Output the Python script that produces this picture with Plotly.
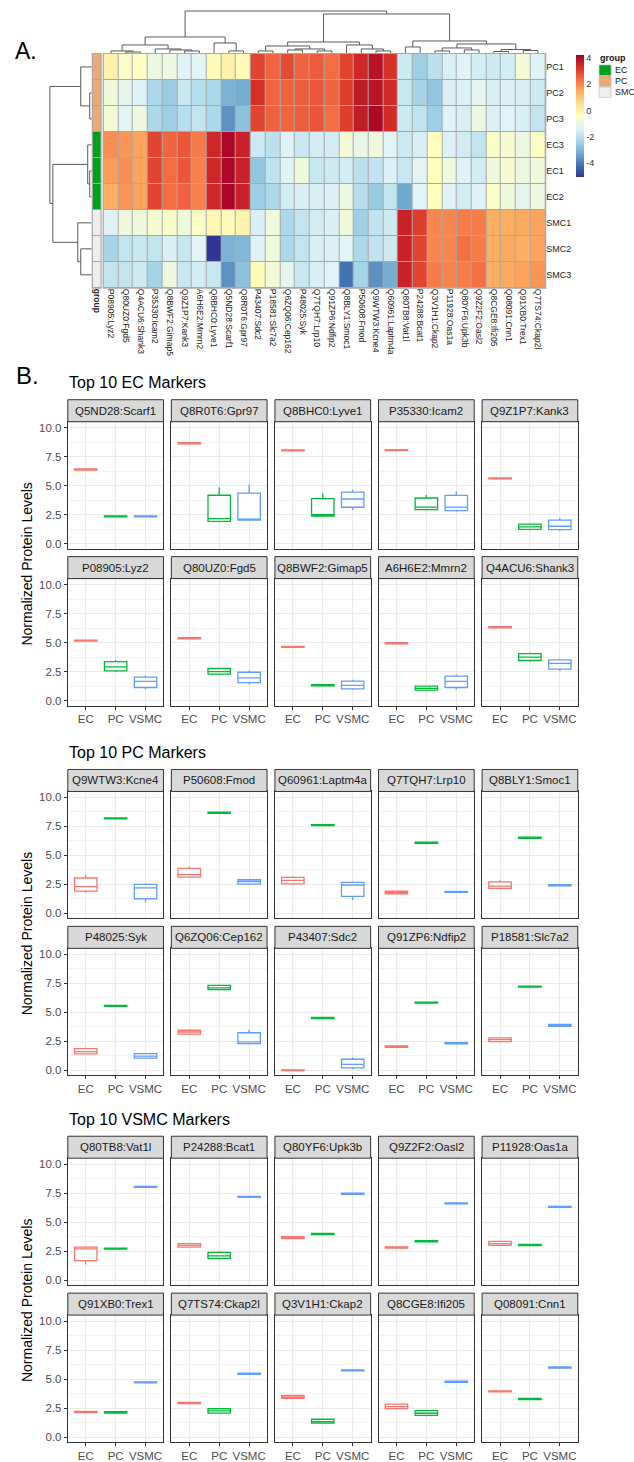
import plotly.graph_objects as go

W, H = 634, 1462
FONT = "Liberation Sans, Arial, Helvetica, sans-serif"


def fx(p):
    return p / W


def fy(p):
    return 1 - p / H


# ---------------- Heatmap data (panel A) ----------------
hm_cols = ["P08905:Lyz2", "Q80UZ0:Fgd5", "Q4ACU6:Shank3", "P35330:Icam2", "Q8BWF2:Gimap5",
           "Q9Z1P7:Kank3", "A6H6E2:Mmrn2", "Q8BHC0:Lyve1", "Q5ND28:Scarf1", "Q8R0T6:Gpr97",
           "P43407:Sdc2", "P18581:Slc7a2", "Q6ZQ06:Cep162", "P48025:Syk", "Q7TQH7:Lrp10",
           "Q91ZP6:Ndfip2", "Q8BLY1:Smoc1", "P50608:Fmod", "Q9WTW3:Kcne4", "Q60961:Laptm4a",
           "Q80TB8:Vat1l", "P24288:Bcat1", "Q3V1H1:Ckap2", "P11928:Oas1a", "Q80YF6:Upk3b",
           "Q9Z2F2:Oasl2", "Q8CGE8:Ifi205", "Q08091:Cnn1", "Q91XB0:Trex1", "Q7TS74:Ckap2l"]
hm_rows = ["PC1", "PC2", "PC3", "EC3", "EC1", "EC2", "SMC1", "SMC2", "SMC3"]
hm_groups = ["PC", "PC", "PC", "EC", "EC", "EC", "SMC", "SMC", "SMC"]

val_PC1 = [0.0, -0.6, -0.5, -1.0, -1.0, -1.4, -1.3, -0.3, 0.0, -0.3,
           3.0, 2.5, 2.9, 2.5, 2.65, 2.4, 3.0, 3.5, 3.9, 3.3,
           -1.7, -2.5, -2.0, -1.5, -1.35, -1.6, -1.7, -1.6, -0.8, -1.4]
val_PC2 = [-0.9, -1.2, -1.4, -2.3, -2.6, -1.8, -2.1, -2.3, -3.1, -3.2,
           3.3, 2.5, 2.55, 2.6, 2.7, 2.5, 3.1, 3.75, 3.85, 3.45,
           -1.8, -2.4, -2.7, -1.5, -1.45, -1.25, -1.5, -1.45, -1.5, -1.7]
val_PC3 = [-0.8, -1.3, -1.0, -2.3, -2.5, -2.1, -1.9, -2.3, -3.7, -2.8,
           3.0, 2.55, 2.5, 2.6, 2.75, 2.4, 3.1, 3.7, 4.1, 3.4,
           -1.7, -1.95, -2.5, -1.35, -1.5, -1.0, -1.45, -1.35, -1.5, -1.9]
val_EC3 = [1.9, 1.8, 1.6, 3.0, 2.5, 2.7, 2.2, 3.5, 4.1, 3.6,
           -1.7, -2.0, -1.4, -1.8, -1.6, -1.6, -0.8, -1.1, -0.95, -1.3,
           -1.7, -1.5, -0.4, -1.45, -1.6, -1.9, -0.55, -0.7, -1.0, -0.55]
val_EC1 = [1.7, 1.9, 1.6, 3.0, 2.4, 2.7, 2.1, 3.5, 4.1, 3.6,
           -2.7, -1.95, -1.35, -0.9, -1.8, -1.7, -1.6, -2.0, -1.9, -1.45,
           -1.8, -1.3, -0.4, -0.9, -1.4, -1.6, -0.9, -0.7, -1.0, -0.9]
val_EC2 = [1.4, 1.8, 1.6, 3.0, 2.4, 2.55, 2.1, 3.5, 4.15, 3.6,
           -2.55, -2.3, -1.6, -1.5, -1.5, -1.45, -1.0, -2.1, -2.6, -1.9,
           -3.3, -1.35, -0.4, -1.4, -1.6, -1.4, -0.55, -0.9, -1.2, -1.0]
val_SMC1 = [-1.4, -0.9, -0.9, -0.7, -0.55, -0.9, -0.55, -0.2, -0.3, -0.1,
            -1.5, -0.9, -2.3, -1.9, -1.6, -1.5, -0.9, -2.5, -1.9, -1.7,
            3.6, 3.1, 2.0, 2.0, 2.15, 2.15, 1.45, 1.45, 1.5, 1.6]
val_SMC2 = [-2.4, -1.9, -1.8, -1.9, -1.5, -1.8, -1.3, -5.1, -3.1, -3.0,
            -1.4, -0.9, -2.3, -1.9, -1.5, -1.45, -1.3, -2.3, -1.9, -1.7,
            3.6, 3.0, 2.0, 2.0, 2.35, 2.15, 1.45, 1.5, 1.4, 1.6]
val_SMC3 = [-1.9, -1.9, -1.7, -2.4, -1.0, -1.8, -1.6, -1.8, -3.7, -2.8,
            -0.3, -0.8, -1.2, -1.8, -1.5, -1.35, -4.2, -2.4, -3.7, -3.2,
            3.6, 3.0, 2.15, 2.05, 2.15, 2.35, 1.45, 1.5, 1.6, 1.8]
hm_values = [val_PC1, val_PC2, val_PC3, val_EC3, val_EC1, val_EC2, val_SMC1, val_SMC2, val_SMC3]

hm_zmin, hm_zmax = -5.1, 4.25
cbar_ticks = [-4, -2, 0, 2, 4]
rdylbu = ["#313695", "#4575B4", "#74ADD1", "#ABD9E9", "#E0F3F8", "#FFFFBF",
          "#FEE090", "#FDAE61", "#F46D43", "#D73027", "#A50026"]
group_names = ["EC", "PC", "SMC"]
group_fill = ["#00A21A", "#EBAA73", "#EEEEEE"]

# dendrograms: (left, right, merge height); ints are leaf indices
col_tree = (
    (((0, (1, 2, 1.0), 2.0), (3, (4, (5, 6, 2.0), 3.0), 4.0), 8.0),
     (7, (8, 9, 2.0), 10.0), 16.0),
    ((((10, 11, 2.0), ((12, 13, 3.0), (14, 15, 2.0), 4.0), 7.0),
      (16, (17, (18, 19, 2.0), 4.0), 8.0), 11.0),
     ((20, 21, 6.0),
      (((22, 23, 2.0), (24, 25, 3.0), 5.0), ((26, 27, 1.5), (28, 29, 2.5), 3.5), 9.0), 12.0),
     39.0),
    42.0)
row_tree = ((0, (1, 2, 2.0), 11.0), ((3, (4, 5, 2.0), 4.0), (6, (7, 8, 11.0), 14.0), 39.0), 42.0)

# ---------------- Box plot data (panel B) ----------------
cell_types = ["EC", "PC", "VSMC"]
type_colors = ["#F8766D", "#00BA38", "#619CFF"]

ec_genes = ["Q5ND28:Scarf1", "Q8R0T6:Gpr97", "Q8BHC0:Lyve1", "P35330:Icam2", "Q9Z1P7:Kank3",
            "P08905:Lyz2", "Q80UZ0:Fgd5", "Q8BWF2:Gimap5", "A6H6E2:Mmrn2", "Q4ACU6:Shank3"]
ec_EC = [[6.33, 6.40, 6.46], [8.60, 8.66, 8.72], [7.98, 8.04, 8.10], [8.01, 8.07, 8.13], [5.57, 5.63, 5.69],
         [5.11, 5.17, 5.23], [5.31, 5.37, 5.43], [4.57, 4.63, 4.69], [4.88, 4.94, 5.00], [6.26, 6.32, 6.38]]
ec_PC = [[2.29, 2.35, 2.41], [1.85, 2.15, 4.85], [2.35, 2.49, 4.35], [2.85, 3.15, 4.20], [1.15, 1.45, 1.75],
         [2.45, 2.90, 3.50], [2.20, 2.50, 2.85], [1.26, 1.32, 1.38], [0.85, 1.05, 1.30], [3.35, 3.75, 4.15]]
ec_VSMC = [[2.29, 2.35, 2.40], [2.00, 2.10, 5.10], [2.90, 3.85, 4.65], [2.75, 3.15, 4.50], [1.10, 1.50, 2.20],
           [0.95, 1.65, 2.15], [1.40, 1.95, 2.60], [0.90, 1.30, 1.80], [0.95, 1.65, 2.25], [2.55, 3.20, 3.60]]

pc_genes = ["Q9WTW3:Kcne4", "P50608:Fmod", "Q60961:Laptm4a", "Q7TQH7:Lrp10", "Q8BLY1:Smoc1",
            "P48025:Syk", "Q6ZQ06:Cep162", "P43407:Sdc2", "Q91ZP6:Ndfip2", "P18581:Slc7a2"]
pc_EC = [[1.80, 2.30, 3.30], [3.05, 3.35, 4.05], [2.45, 2.85, 3.20], [1.65, 1.80, 1.95], [2.10, 2.35, 2.85],
         [1.35, 1.60, 1.95], [3.05, 3.30, 3.50], [-0.05, 0.00, 0.05], [1.97, 2.04, 2.11], [2.40, 2.65, 2.85]]
pc_PC = [[8.13, 8.19, 8.25], [8.62, 8.68, 8.74], [7.55, 7.61, 7.67], [6.03, 6.09, 6.15], [6.46, 6.52, 6.58],
         [5.49, 5.55, 5.61], [6.90, 7.10, 7.40], [4.45, 4.51, 4.57], [5.77, 5.83, 5.89], [7.16, 7.22, 7.28]]
pc_VSMC = [[0.95, 2.20, 2.60], [2.45, 2.75, 2.95], [1.15, 2.45, 2.75], [1.79, 1.86, 1.92], [2.36, 2.43, 2.50],
           [1.00, 1.22, 1.50], [2.25, 2.45, 3.50], [0.10, 0.50, 1.10], [2.26, 2.33, 2.40], [3.76, 3.87, 3.98]]

vsmc_genes = ["Q80TB8:Vat1l", "P24288:Bcat1", "Q80YF6:Upk3b", "Q9Z2F2:Oasl2", "P11928:Oas1a",
              "Q91XB0:Trex1", "Q7TS74:Ckap2l", "Q3V1H1:Ckap2", "Q8CGE8:Ifi205", "Q08091:Cnn1"]
vsmc_EC = [[1.35, 2.70, 2.90], [2.80, 3.00, 3.20], [3.55, 3.65, 3.78], [2.75, 2.82, 2.88], [2.95, 3.15, 3.40],
           [2.10, 2.16, 2.22], [2.86, 2.93, 3.00], [3.30, 3.45, 3.65], [2.40, 2.62, 2.90], [3.88, 3.94, 4.00]]
vsmc_PC = [[2.65, 2.72, 2.78], [1.80, 2.10, 2.50], [3.90, 3.97, 4.05], [3.28, 3.35, 3.42], [2.96, 3.03, 3.10],
           [2.05, 2.12, 2.20], [2.00, 2.25, 2.50], [1.15, 1.33, 1.60], [1.80, 2.05, 2.35], [3.22, 3.28, 3.34]]
vsmc_VSMC = [[7.99, 8.05, 8.11], [7.12, 7.18, 7.24], [7.39, 7.45, 7.51], [6.56, 6.62, 6.68], [6.26, 6.32, 6.38],
             [4.65, 4.71, 4.77], [5.40, 5.46, 5.52], [5.69, 5.75, 5.81], [4.71, 4.77, 4.83], [5.94, 6.00, 6.06]]

sections = [
    ("Top 10 EC Markers", ec_genes, [ec_EC, ec_PC, ec_VSMC]),
    ("Top 10 PC Markers", pc_genes, [pc_EC, pc_PC, pc_VSMC]),
    ("Top 10 VSMC Markers", vsmc_genes, [vsmc_EC, vsmc_PC, vsmc_VSMC]),
]
y_ticks = [0, 2.5, 5, 7.5, 10]
y_ticktext = ["0.0", "2.5", "5.0", "7.5", "10.0"]
y_minor = [1.25, 3.75, 6.25, 8.75]

# ---------------- Layout geometry (pixels) ----------------
HM_L, HM_R, HM_T, HM_B = 103, 546, 54, 288
ANN_L, ANN_R = 92, 100
PANEL_L, PANEL_W, PANEL_STEP = 67, 96, 103.9
PANEL_H, STRIP_H = 127, 22
panel_tops = [[422, 579], [792, 949], [1159, 1316]]
title_y = [383, 753, 1120]
ytitle_y = [564, 934, 1301]

fig = go.Figure()
layout = dict(
    width=W, height=H, margin=dict(l=0, r=0, t=0, b=0),
    paper_bgcolor="white", plot_bgcolor="white", showlegend=False,
    hovermode=False, font=dict(family=FONT, color="#1A1A1A"),
)
shapes = []
annotations = []

# heatmap
cs = [[i / (len(rdylbu) - 1), c] for i, c in enumerate(rdylbu)]
fig.add_trace(go.Heatmap(
    z=hm_values, x=list(range(len(hm_cols))), y=list(range(len(hm_rows))),
    colorscale=cs, zmin=hm_zmin, zmax=hm_zmax, xgap=1, ygap=1,
    xaxis="x", yaxis="y",
    colorbar=dict(x=fx(577), xanchor="left", y=fy(55), yanchor="top",
                  len=122, lenmode="pixels", thickness=8, thicknessmode="pixels",
                  outlinewidth=0, ticks="", tickvals=cbar_ticks,
                  ticktext=[str(t) for t in cbar_ticks], xpad=0, ypad=0,
                  tickfont=dict(size=9, color="#333333", family=FONT)),
))
layout["xaxis"] = dict(domain=[fx(HM_L), fx(HM_R)], range=[-0.5, len(hm_cols) - 0.5],
                       tickvals=list(range(len(hm_cols))), ticktext=hm_cols, tickangle=90,
                       ticks="", showgrid=False, zeroline=False, showline=False, anchor="y",
                       tickfont=dict(size=8.5, color="#222222", family=FONT))
layout["yaxis"] = dict(domain=[fy(HM_B), fy(HM_T)], range=[len(hm_rows) - 0.5, -0.5],
                       tickvals=list(range(len(hm_rows))), ticktext=hm_rows, side="right",
                       ticks="", showgrid=False, zeroline=False, showline=False, anchor="x",
                       tickfont=dict(size=9, color="#222222", family=FONT))
shapes.append(dict(type="rect", xref="paper", yref="paper", layer="below",
                   x0=fx(HM_L - 1), x1=fx(HM_R + 1), y0=fy(HM_B + 1), y1=fy(HM_T - 1),
                   fillcolor="#A8A8A8", line=dict(width=0)))

# annotation column
codes = [[group_names.index(g)] for g in hm_groups]
fig.add_trace(go.Heatmap(
    z=codes, x=[0], y=list(range(len(hm_rows))),
    colorscale=[[0, group_fill[0]], [0.5, group_fill[1]], [1, group_fill[2]]],
    zmin=0, zmax=2, showscale=False, ygap=1, xaxis="x2", yaxis="y2"))
layout["xaxis2"] = dict(domain=[fx(ANN_L), fx(ANN_R)], range=[-0.5, 0.5], tickvals=[0],
                        ticktext=["<b>group</b>"], tickangle=90, ticks="", showgrid=False,
                        zeroline=False, anchor="y2",
                        tickfont=dict(size=8.5, color="#222222", family=FONT))
layout["yaxis2"] = dict(domain=[fy(HM_B), fy(HM_T)], range=[len(hm_rows) - 0.5, -0.5],
                        showticklabels=False, ticks="", showgrid=False, zeroline=False, anchor="x2")
shapes.append(dict(type="rect", xref="paper", yref="paper", layer="below",
                   x0=fx(ANN_L - 1), x1=fx(ANN_R + 1), y0=fy(HM_B + 1), y1=fy(HM_T - 1),
                   fillcolor="#A8A8A8", line=dict(width=0)))


def dendro(node, xs, ys, horizontal):
    if isinstance(node, int):
        return float(node), 0.0
    l, r, h = node
    cl, hl = dendro(l, xs, ys, horizontal)
    cr, hr = dendro(r, xs, ys, horizontal)
    pos = [cl, cl, cr, cr, None]
    hts = [hl, h, h, hr, None]
    if horizontal:
        xs += pos
        ys += hts
    else:
        xs += hts
        ys += pos
    return (cl + cr) / 2, h


cx, cy = [], []
dendro(col_tree, cx, cy, True)
fig.add_trace(go.Scatter(x=cx, y=cy, mode="lines", line=dict(color="#5A5A5A", width=1),
                         xaxis="x3", yaxis="y3"))
layout["xaxis3"] = dict(domain=[fx(HM_L), fx(HM_R)], range=[-0.5, len(hm_cols) - 0.5],
                        visible=False, anchor="y3")
layout["yaxis3"] = dict(domain=[fy(53), fy(10)], range=[0, 43], visible=False, anchor="x3")

rx, ry = [], []
dendro(row_tree, rx, ry, False)
fig.add_trace(go.Scatter(x=rx, y=ry, mode="lines", line=dict(color="#5A5A5A", width=1),
                         xaxis="x4", yaxis="y4"))
layout["xaxis4"] = dict(domain=[fx(48), fx(91)], range=[43, 0], visible=False, anchor="y4")
layout["yaxis4"] = dict(domain=[fy(HM_B), fy(HM_T)], range=[len(hm_rows) - 0.5, -0.5],
                        visible=False, anchor="x4")

# group legend
annotations.append(dict(text="<b>group</b>", x=fx(599), y=fy(58), xref="paper", yref="paper",
                        xanchor="left", yanchor="middle", showarrow=False,
                        font=dict(size=9, color="#111111", family=FONT)))
for i, (g, c) in enumerate(zip(group_names, group_fill)):
    top = 65 + i * 11
    shapes.append(dict(type="rect", xref="paper", yref="paper", x0=fx(600), x1=fx(612),
                       y0=fy(top + 10.5), y1=fy(top), fillcolor=c, line=dict(color="#BBBBBB", width=0.6)))
    annotations.append(dict(text=g, x=fx(614), y=fy(top + 5.5), xref="paper", yref="paper",
                            xanchor="left", yanchor="middle", showarrow=False,
                            font=dict(size=9, color="#222222", family=FONT)))

annotations.append(dict(text="A.", x=fx(12), y=fy(51), xref="paper", yref="paper",
                        xanchor="left", yanchor="middle", showarrow=False,
                        font=dict(size=23, color="black", family=FONT)))
annotations.append(dict(text="B.", x=fx(13), y=fy(376), xref="paper", yref="paper",
                        xanchor="left", yanchor="middle", showarrow=False,
                        font=dict(size=24, color="black", family=FONT)))

# box panels
ax_n = 5
for s, (title, genes, series) in enumerate(sections):
    annotations.append(dict(text=title, x=fx(PANEL_L - 1), y=fy(title_y[s]), xref="paper", yref="paper",
                            xanchor="left", yanchor="middle", showarrow=False,
                            font=dict(size=16, color="black", family=FONT)))
    annotations.append(dict(text="Normalized Protein Levels", x=fx(26), y=fy(ytitle_y[s]),
                            xref="paper", yref="paper", textangle=-90, xanchor="center",
                            yanchor="middle", showarrow=False,
                            font=dict(size=14, color="black", family=FONT)))
    for gi, gene in enumerate(genes):
        r, c = divmod(gi, 5)
        left = PANEL_L + c * PANEL_STEP
        top = panel_tops[s][r]
        xa, ya = f"x{ax_n}", f"y{ax_n}"
        for k, ct in enumerate(cell_types):
            vals = series[k][gi]
            fig.add_trace(go.Box(
                y=vals, x=[ct] * len(vals), xaxis=xa, yaxis=ya,
                boxpoints=False, whiskerwidth=0, width=0.75, quartilemethod="linear",
                fillcolor="white", line=dict(color=type_colors[k], width=1.3),
                marker=dict(color=type_colors[k])))
        layout[f"xaxis{ax_n}"] = dict(
            domain=[fx(left), fx(left + PANEL_W)], type="category",
            categoryorder="array", categoryarray=cell_types, range=[-0.6, 2.6],
            showgrid=True, gridcolor="#EBEBEB", gridwidth=1.2, zeroline=False,
            showline=True, linecolor="#333333", linewidth=1, mirror=True,
            ticks="outside" if r == 1 else "", ticklen=3, tickcolor="#333333",
            showticklabels=(r == 1), anchor=f"y{ax_n}",
            tickfont=dict(size=11.5, color="#4D4D4D", family=FONT))
        layout[f"yaxis{ax_n}"] = dict(
            domain=[fy(top + PANEL_H), fy(top)], range=[-0.431, 10.517],
            tickvals=y_ticks, ticktext=y_ticktext, showticklabels=(c == 0),
            ticks="outside" if c == 0 else "", ticklen=3, tickcolor="#333333",
            showgrid=True, gridcolor="#EBEBEB", gridwidth=1.2, zeroline=False,
            minor=dict(tickvals=y_minor, showgrid=True, gridcolor="#F4F4F4", gridwidth=0.7, ticks=""),
            showline=True, linecolor="#333333", linewidth=1, mirror=True, anchor=f"x{ax_n}",
            tickfont=dict(size=11.5, color="#4D4D4D", family=FONT))
        shapes.append(dict(type="rect", xref="paper", yref="paper",
                           x0=fx(left), x1=fx(left + PANEL_W), y0=fy(top), y1=fy(top - STRIP_H),
                           fillcolor="#D9D9D9", line=dict(color="#333333", width=1)))
        annotations.append(dict(text=gene, x=fx(left + PANEL_W / 2), y=fy(top - STRIP_H / 2),
                                xref="paper", yref="paper", xanchor="center", yanchor="middle",
                                showarrow=False, font=dict(size=11.5, color="#1A1A1A", family=FONT)))
        ax_n += 1

layout["shapes"] = shapes
layout["annotations"] = annotations
fig.update_layout(**layout)
fig.write_html("out.html", config={"displayModeBar": False},
               post_script="document.body.style.margin='0';document.body.style.overflow='hidden';")
